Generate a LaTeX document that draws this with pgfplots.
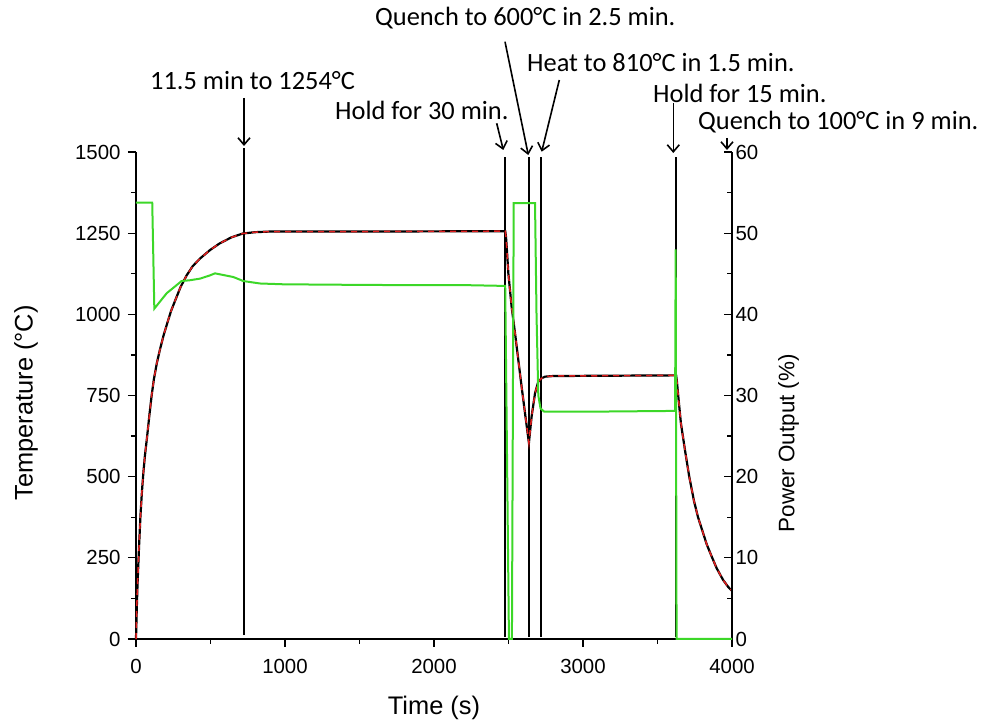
\documentclass[border=0pt]{standalone}
\usepackage{fontspec}
\setmainfont{Liberation Sans}
\newfontfamily\calfont{Carlito}
\usepackage{pgfplots}
\usepackage{pgfplotstable}
\pgfplotsset{compat=1.18}
\usetikzlibrary{arrows.meta}
\definecolor{pgreen}{RGB}{60,215,40}
\definecolor{pred}{RGB}{225,30,30}
\pgfplotstableread{
t T
0 0
5 90
10 165
20 280
30 380
40 455
50 515
60 565
75 625
90 690
105 750
120 800
140 850
160 890
185 935
208 970
235 1010
265 1045
300 1085
340 1120
380 1148
430 1172
497 1198
560 1218
640 1237
718 1249
800 1253
900 1255
1500 1255
2478 1256
2483 1240
2488 1208
2499 1126
2521 1023
2544 941
2566 859
2588 777
2611 695
2633 618
2637 604
2655 685
2678 757
2700 793
2722 803
2745 808
2800 810
3625 812
3631 790
3640 745
3657 665
3685 580
3713 500
3745 425
3772 375
3800 335
3830 292
3860 258
3897 218
3940 182
3975 160
4000 148
}\temptab
\pgfplotstableread{
t P
0 53.75
109 53.75
123 40.7
206 42.6
306 44.1
362 44.2
430 44.4
497 44.8
530 45.05
653 44.6
720 44.1
832 43.8
989 43.7
1328 43.65
1772 43.6
2200 43.6
2478 43.5
2503 0
2523 0
2535 53.7
2678 53.7
2688 40
2700 30
2715 28.4
2740 28.0
3000 28.0
3618 28.1
3622 48
3628 0
4000 0
}\powtab
\begin{document}
\begin{tikzpicture}[x=1bp,y=1bp]
\path[use as bounding box] (-136,-86) rectangle (855,639);
\pgfplotsset{
  common/.style={
    at={(0,0)}, anchor=south west,
    scale only axis, width=596bp, height=487bp,
    xmin=0, xmax=4000,
    clip=false,
    major tick length=8bp, minor tick length=5bp,
    tick style={black, line width=1.3bp},
    axis line style={black, line width=1.5bp},
    ticklabel style={font=\fontsize{20.5}{24}\selectfont},
    /pgf/number format/assume math mode=true,
    /pgf/number format/1000 sep={},
    scaled ticks=false,
  }
}
\begin{axis}[common,
  ymin=0, ymax=1500,
  axis x line*=bottom, axis y line*=left,
  tick align=outside,
  xtick={0,1000,2000,3000,4000},
  ytick={0,250,500,750,1000,1250,1500},
  minor x tick num=1, minor y tick num=1,
  xticklabel style={yshift=-9bp},
  yticklabel style={xshift=-4bp},
  xlabel={Time (s)},
  ylabel={Temperature (°C)},
  label style={font=\fontsize{25.5}{30}\selectfont},
  x label style={at={(axis description cs:0.5,0)}, anchor=center, yshift=-69bp},
  y label style={at={(axis description cs:-0.1845,0.485)}, anchor=center, rotate=0},
]
\addplot[black, line width=1.8bp] coordinates {(725,12) (725,1512)};
\addplot[black, line width=1.8bp] coordinates {(2478,6) (2478,1485)};
\addplot[black, line width=1.8bp] coordinates {(2636,6) (2636,1485)};
\addplot[black, line width=1.8bp] coordinates {(2718,6) (2718,1485)};
\addplot[black, line width=1.8bp] coordinates {(3625,6) (3625,1485)};
\addplot[black, line width=2.2bp] table[x=t,y=T] {\temptab};
\addplot[pred, line width=1.5bp, dash pattern=on 6bp off 5bp] table[x=t,y=T] {\temptab};
\end{axis}
\begin{axis}[common,
  ymin=0, ymax=60,
  axis x line=none, axis y line*=right,
  tick align=inside,
  ytick={0,10,20,30,40,50,60},
  minor y tick num=1,
  ylabel={Power Output (\%)},
  label style={font=\fontsize{22.5}{27}\selectfont},
  y label style={at={(axis description cs:1.095,0.402)}, anchor=center, rotate=0},
]
\addplot[pgreen, line width=2bp] table[x=t,y=P] {\powtab};
\end{axis}
\begin{scope}[every node/.style={inner sep=0pt, anchor=west, font=\calfont\fontsize{26.5}{30}\selectfont}]
\node at (14,558) {11.5 min to 1254°C};
\node at (199,529) {Hold for 30 min.};
\node at (239,621) {Quench to 600°C in 2.5 min.};
\node at (391,576) {Heat to 810°C in 1.5 min.};
\node at (517,546) {Hold for 15 min.};
\node at (562,517) {Quench to 100°C in 9 min.};
\end{scope}
\begin{scope}[line width=1.6bp, -{Straight Barb[length=7bp,width=12bp,line width=1.6bp]}]
\draw (108,541) -- (108,493);
\draw (360.7,515.7) -- (367.3,489);
\draw (369,597.3) -- (392.3,484);
\draw (423.3,559) -- (405.7,487.3);
\draw (537.3,536) -- (537.3,486);
\draw (591,501) -- (591,489);
\end{scope}
\end{tikzpicture}
\end{document}
